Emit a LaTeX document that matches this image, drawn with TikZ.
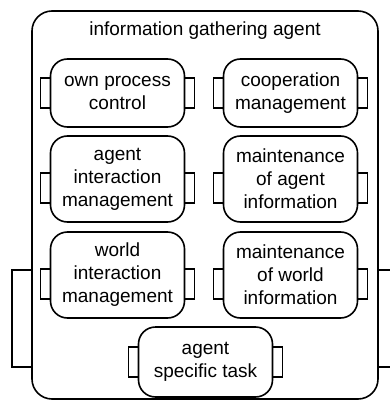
\documentclass[tikz,border=0pt]{standalone}
\usepackage{fontspec}
\setmainfont{Liberation Sans}
\usetikzlibrary{positioning}
\usetikzlibrary{calc}
\tikzstyle{agentbox}=[draw,rounded corners=20pt,minimum width=346pt,minimum height=388pt,inner sep=0pt,outer sep=0pt]
\tikzstyle{module}=[draw,rounded corners=17pt,minimum width=134pt,align=center,inner sep=0pt,outer sep=0pt,font=\fontsize{19}{23}\selectfont]
\tikzstyle{port}=[draw,minimum width=10pt,minimum height=30pt,inner sep=0pt,outer sep=0pt]
\tikzstyle{bigport}=[draw,minimum width=20pt,minimum height=97pt,inner sep=0pt,outer sep=0pt]
\tikzstyle{title}=[font=\fontsize{19}{23}\selectfont]

\begin{document}
\begin{tikzpicture}[x=1pt, y=-1pt, line width=1.6pt]
    \useasboundingbox (0,0) rectangle (390,401);
    \clip (0,0) rectangle (390,401);

    % First the agent itself with its two outer ports
    \node[agentbox] (agent) at (205,205) {};
    \node[title] (name) at (205,31) {information gathering agent};
    \node[bigport, anchor=east] (agentin) at (32,318.5) {};
    \node[bigport, anchor=west] (agentout) at (378,318.5) {};

    % Then the modules inside it
    \foreach \pos/\name/\h/\label in {{(117.5,93)/ownproc/68/{own process\\control}},
        {(290.5,93)/coop/68/{cooperation\\management}},
        {(117.5,179)/agentint/86/{agent\\interaction\\management}},
        {(290.5,179)/agentinfo/86/{maintenance\\of agent\\information}},
        {(117.5,275)/worldint/86/{world\\interaction\\management}},
        {(290.5,275)/worldinfo/86/{maintenance\\of world\\information}},
        {(205.5,362)/task/70/{agent\\specific task}}}
        \node[module, minimum height=\h pt] (\name) at \pos {\label};

    % Ports on both sides of every module
    \foreach \name/\dy in {ownproc/0, coop/0, agentint/9, agentinfo/9, worldint/9, worldinfo/9, task/0}
    {
        \node[port, anchor=east] (\name-in) at ($(\name.west)+(0,\dy)$) {};
        \node[port, anchor=west] (\name-out) at ($(\name.east)+(0,\dy)$) {};
    }
\end{tikzpicture}
\end{document}
